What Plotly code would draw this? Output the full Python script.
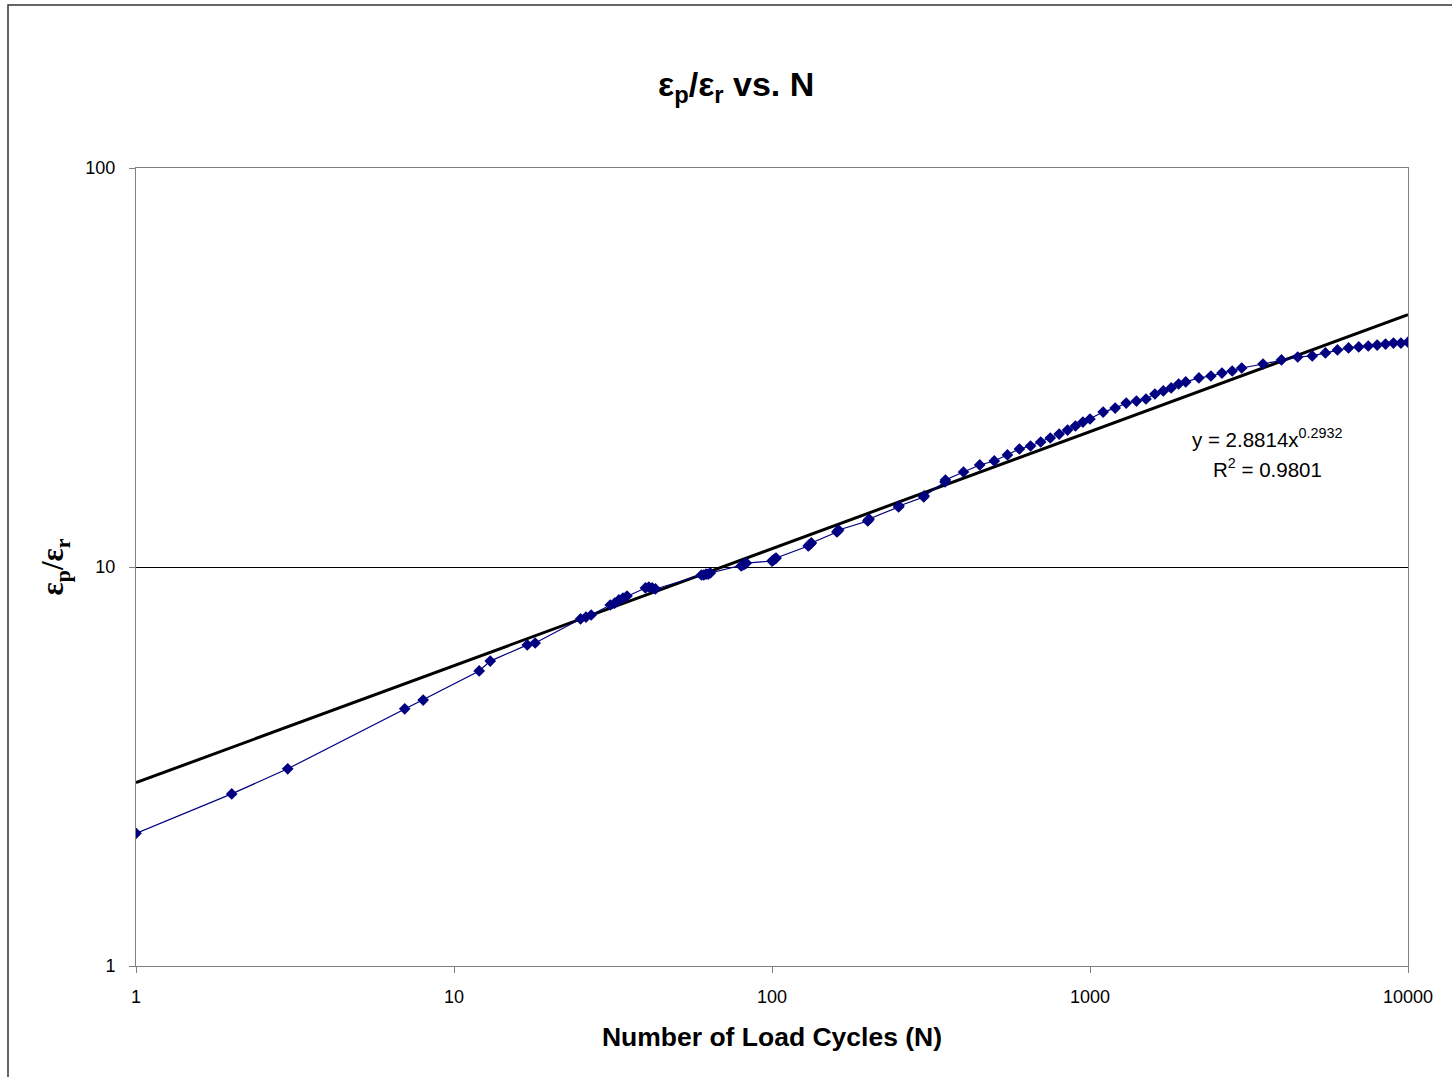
import plotly.graph_objects as go

# Data
cycles = [1, 2, 3, 7, 8, 12, 13, 17, 18, 25, 26, 27, 31, 32, 33, 34, 35, 40, 41, 42, 43,
          60, 61, 62, 63, 64, 80, 81, 82, 83, 100, 101, 102, 103, 130, 131, 132, 133,
          160, 161, 162, 200, 201, 202, 250, 251, 300, 301, 350, 351,
          400, 450, 500, 550, 600, 650, 700, 750, 800, 850, 900, 950, 1000,
          1100, 1200, 1300, 1400, 1500, 1600, 1700, 1800, 1900, 2000, 2200, 2400,
          2600, 2800, 3000, 3500, 4000, 4500, 5000, 5500, 6000, 6500, 7000, 7500,
          8000, 8500, 9000, 9500, 10000]
strain_ratio = [2.15, 2.70, 3.12, 4.41, 4.64, 5.49, 5.81, 6.38, 6.45, 7.41, 7.49, 7.58,
                8.03, 8.12, 8.27, 8.36, 8.46, 8.86, 8.91, 8.86, 8.81,
                9.55, 9.55, 9.60, 9.60, 9.66, 10.06, 10.12, 10.17, 10.23,
                10.35, 10.41, 10.47, 10.53, 11.29, 11.36, 11.42, 11.49,
                12.24, 12.31, 12.38, 13.04, 13.11, 13.19, 14.14, 14.22, 14.98, 15.07,
                16.33, 16.52,
                17.30, 18.02, 18.44, 19.09, 19.76, 20.10, 20.57, 21.05, 21.54, 22.04,
                22.56, 23.08, 23.49, 24.45, 25.02, 25.76, 26.06, 26.37, 27.14, 27.62,
                28.11, 28.75, 29.09, 29.77, 30.11, 30.63, 30.99, 31.53, 32.27, 33.03,
                33.60, 33.80, 34.40, 34.99, 35.40, 35.60, 35.80, 36.00, 36.20, 36.40,
                36.40, 36.60]

# Power trendline reported on the chart: y = 2.8814 x^0.2932
trend_coef = 2.8814
trend_exp = 0.2932
trend_x = [1, 10000]
trend_y = [trend_coef * x ** trend_exp for x in trend_x]

x_ticks = [1, 10, 100, 1000, 10000]
x_ticktext = ["1", "10", "100", "1000", "10000"]
y_ticks = [1, 10, 100]
y_ticktext = ["1", "10", "100"]

FONT = "Liberation Sans, Arial, sans-serif"

fig = go.Figure()
fig.add_trace(go.Scatter(
    x=trend_x, y=trend_y, mode="lines",
    line=dict(color="black", width=3), showlegend=False, hoverinfo="skip"))
fig.add_trace(go.Scatter(
    x=cycles, y=strain_ratio, mode="lines+markers",
    line=dict(color="#000080", width=1.2),
    marker=dict(symbol="diamond", size=9, color="#000080"),
    showlegend=False))

L, R, T, B = 136, 44, 168, 111
W, H = 1452, 1077
pw, ph = W - L - R, H - T - B

fig.update_layout(
    width=W, height=H,
    margin=dict(l=L, r=R, t=T, b=B),
    paper_bgcolor="white", plot_bgcolor="white",
    font=dict(family=FONT, color="black"),
    title=dict(text="<b>ε<sub>p</sub>/ε<sub>r</sub> vs. N</b>", x=0.507, xanchor="center",
               y=1 - 84 / H, yanchor="middle", font=dict(size=34, family=FONT)),
    xaxis=dict(type="log", range=[0, 4], tickvals=x_ticks, ticktext=x_ticktext,
               showgrid=False, zeroline=False, showline=True, mirror=True,
               linecolor="#808080", linewidth=1, ticks="outside", ticklen=6,
               tickcolor="#808080", tickfont=dict(size=18), ticklabelstandoff=8,
               title=dict(text="<b>Number of Load Cycles (N)</b>", font=dict(size=26.5), standoff=21)),
    yaxis=dict(type="log", range=[0, 2], tickvals=y_ticks, ticktext=y_ticktext,
               showgrid=True, gridcolor="black", gridwidth=1, zeroline=False,
               showline=True, mirror=True, linecolor="#808080", linewidth=1,
               ticks="outside", ticklen=6, tickcolor="#808080", tickfont=dict(size=18),
               ticklabelstandoff=10,
               title=dict(text="<b>ε<sub>p</sub>/ε<sub>r</sub></b>",
                          font=dict(size=31, family="Liberation Serif, Times New Roman, serif"),
                          standoff=12)),
    annotations=[
        dict(xref="paper", yref="paper", x=(1267 - L) / pw, y=(966 - 438) / ph,
             text="y = 2.8814x<sup>0.2932</sup>", showarrow=False, xanchor="center",
             yanchor="middle", font=dict(size=20.5)),
        dict(xref="paper", yref="paper", x=(1267 - L) / pw, y=(966 - 468) / ph,
             text="R<sup>2</sup> = 0.9801", showarrow=False, xanchor="center",
             yanchor="middle", font=dict(size=20.5)),
    ],
    shapes=[dict(type="rect", xref="paper", yref="paper",
                 x0=(8 - L) / pw, x1=(1460 - L) / pw,
                 y0=(966 - 1090) / ph, y1=(966 - 5) / ph,
                 line=dict(color="#333333", width=1.5), fillcolor="rgba(0,0,0,0)",
                 layer="below")],
)

fig.write_html("out.html")
